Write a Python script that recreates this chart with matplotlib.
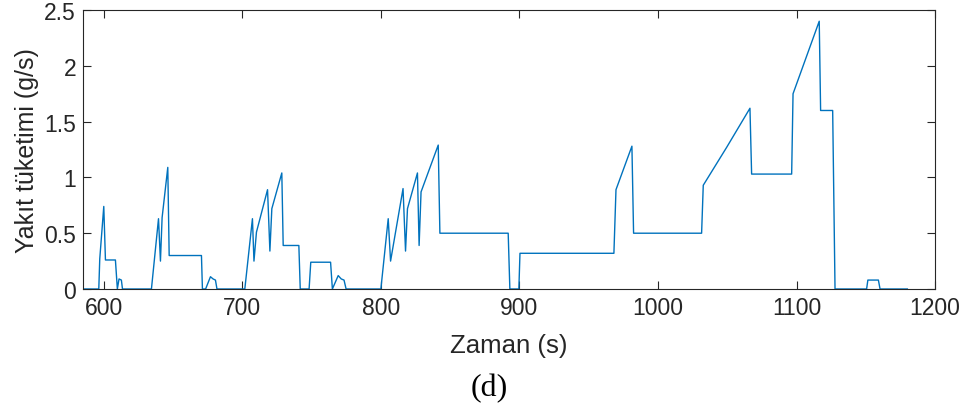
import matplotlib
matplotlib.use("Agg")
import matplotlib.pyplot as plt

time_s = [585, 596.4, 597.1, 600, 601.2, 608.4, 609.8, 611, 612.7, 613.5,
          634.4, 639.5, 640.9, 642.1, 646.2, 647.2, 670.5, 671.2, 673.5, 677,
          678.9, 680.6, 681.7, 701.8, 707.3, 708.4, 710.2, 718.2, 719.9, 721.3,
          728.5, 729.5, 740.8, 741.8, 748.2, 749.4, 763.7, 765, 769.2, 771.4,
          773.4, 774.9, 800, 805.3, 807, 816, 817.8, 819.2, 826.4, 827.6,
          829, 841.4, 842.6, 891.9, 893.1, 899.6, 900.4, 968.2, 969.7, 981.2,
          982.4, 1031.5, 1032.7, 1049.6, 1066.4, 1067.6, 1096.5, 1097.5, 1116.4, 1117.4,
          1126.1, 1127.8, 1150.6, 1151.5, 1159.1, 1160.3, 1180]
fuel_gs = [0, 0, 0.27, 0.74, 0.26, 0.26, 0, 0.09, 0.08, 0,
           0, 0.63, 0.25, 0.64, 1.09, 0.30, 0.30, 0, 0, 0.11,
           0.09, 0.08, 0, 0, 0.63, 0.25, 0.51, 0.89, 0.34, 0.72,
           1.04, 0.39, 0.39, 0, 0, 0.24, 0.24, 0, 0.12, 0.09,
           0.08, 0, 0, 0.63, 0.25, 0.90, 0.34, 0.72, 1.04, 0.39,
           0.87, 1.29, 0.50, 0.50, 0, 0, 0.32, 0.32, 0.89, 1.28,
           0.50, 0.50, 0.93, 1.27, 1.62, 1.03, 1.03, 1.75, 2.40, 1.60,
           1.60, 0, 0, 0.08, 0.08, 0, 0]

x_ticks = [600, 700, 800, 900, 1000, 1100, 1200]
y_ticks = [0, 0.5, 1, 1.5, 2, 2.5]
y_tick_labels = ["0", "0.5", "1", "1.5", "2", "2.5"]

sans = "Liberation Sans"

fig = plt.figure(figsize=(9.73, 4.10), dpi=100)
ax = fig.add_axes([0.0853, 0.2927, 0.8757, 0.6803])
ax.plot(time_s, fuel_gs, color="#0072BD", linewidth=1.0)
ax.set_xlim(585, 1200)
ax.set_ylim(0, 2.5)
ax.set_xticks(x_ticks)
ax.set_xticklabels([str(v) for v in x_ticks], fontfamily=sans, fontsize=16.5)
ax.set_yticks(y_ticks)
ax.set_yticklabels(y_tick_labels, fontfamily=sans, fontsize=16.5)
ax.tick_params(direction="in", length=6, width=0.8, top=True, right=True,
               colors="#262626", labelcolor="#262626", pad=5)
for s in ax.spines.values():
    s.set_color("#262626")
    s.set_linewidth(0.8)
ax.set_xlabel("Zaman (s)", fontfamily=sans, fontsize=18.5, color="#262626", labelpad=10)
ax.set_ylabel("Yakıt tüketimi (g/s)", fontfamily=sans, fontsize=18, color="#262626", labelpad=4)
fig.text(489 / 973, 1 - 389 / 410, "(d)", fontfamily="Liberation Serif", fontsize=23,
         ha="center", va="center", color="black")
fig.savefig("out.png", dpi=100)
